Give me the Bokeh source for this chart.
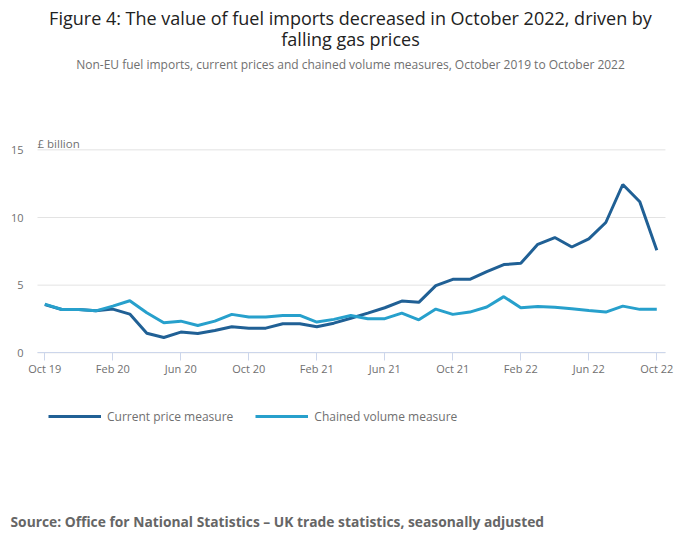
from bokeh.plotting import figure
from bokeh.models import (ColumnDataSource, FixedTicker, Range1d, Label, Legend, LegendItem)
from bokeh.embed import file_html
from bokeh.resources import INLINE

# ---- data ----
months = ["Oct 19", "Nov 19", "Dec 19", "Jan 20", "Feb 20", "Mar 20", "Apr 20", "May 20", "Jun 20",
          "Jul 20", "Aug 20", "Sep 20", "Oct 20", "Nov 20", "Dec 20", "Jan 21", "Feb 21", "Mar 21",
          "Apr 21", "May 21", "Jun 21", "Jul 21", "Aug 21", "Sep 21", "Oct 21", "Nov 21", "Dec 21",
          "Jan 22", "Feb 22", "Mar 22", "Apr 22", "May 22", "Jun 22", "Jul 22", "Aug 22", "Sep 22",
          "Oct 22"]
current_price = [3.56, 3.2, 3.2, 3.1, 3.23, 2.86, 1.45, 1.13, 1.53, 1.43, 1.65, 1.92, 1.82, 1.82,
                 2.15, 2.15, 1.92, 2.19, 2.55, 2.93, 3.33, 3.82, 3.73, 4.96, 5.43, 5.43, 6.0, 6.52,
                 6.61, 8.02, 8.52, 7.82, 8.42, 9.63, 12.44, 11.16, 7.58]
chained_volume = [3.6, 3.2, 3.2, 3.1, 3.45, 3.85, 2.96, 2.22, 2.34, 2.02, 2.34, 2.84, 2.64, 2.64,
                  2.76, 2.76, 2.27, 2.47, 2.76, 2.52, 2.52, 2.93, 2.44, 3.23, 2.84, 3.01, 3.38, 4.15,
                  3.33, 3.43, 3.36, 3.26, 3.13, 3.01, 3.45, 3.21, 3.21]
series_names = ["Current price measure", "Chained volume measure"]
y_ticks = [0, 5, 10, 15]
tick_labels = ["Oct 19", "Feb 20", "Jun 20", "Oct 20", "Feb 21", "Jun 21", "Oct 21", "Feb 22", "Jun 22", "Oct 22"]

title_lines = ["Figure 4: The value of fuel imports decreased in October 2022, driven by",
               "falling gas prices"]
subtitle = "Non-EU fuel imports, current prices and chained volume measures, October 2019 to October 2022"
y_unit = "£ billion"
source_text = "Source: Office for National Statistics \u2013 UK trade statistics, seasonally adjusted"

DARK = "#206095"
LIGHT = "#27a0cc"
GREY = "#707070"
FONT = "Open Sans"

# plot-area extent in data units (x: month index, y: £ billion)
X_LEFT, X_RIGHT = -0.43, 36.51
Y_BOTTOM, Y_TOP = 0, 15

W, H = 700, 549
idx = list(range(len(months)))
src = ColumnDataSource(dict(x=idx, cur=current_price, vol=chained_volume))

p = figure(width=W, height=H, output_backend="svg", toolbar_location=None,
           x_range=Range1d(-2.606, 38.571), y_range=Range1d(-14.54, 26.04),
           min_border=0)
p.outline_line_color = None
p.background_fill_color = "white"
p.border_fill_color = "white"

# horizontal gridlines limited to plot area
p.segment(x0=[X_LEFT] * len(y_ticks), x1=[X_RIGHT] * len(y_ticks), y0=y_ticks, y1=y_ticks,
          line_color="#e3e3e3", line_width=1, level="underlay")

r1 = p.line("x", "cur", source=src, line_color=DARK, line_width=3)
r2 = p.line("x", "vol", source=src, line_color=LIGHT, line_width=3)

# axes (drawn at fixed data locations inside the canvas)
tick_pos = [months.index(t) for t in tick_labels]
xa = p.xaxis[0]
xa.fixed_location = Y_BOTTOM
xa.bounds = (X_LEFT, X_RIGHT)
xa.ticker = FixedTicker(ticks=tick_pos)
xa.major_label_overrides = {i: months[i] for i in tick_pos}
xa.axis_line_color = "#ccd6eb"
xa.major_tick_line_color = "#ccd6eb"
xa.major_tick_in = 0
xa.major_tick_out = 8
xa.minor_tick_line_color = None
xa.major_label_standoff = 0
xa.major_label_text_font = FONT
xa.major_label_text_font_size = "11px"
xa.major_label_text_color = GREY

ya = p.yaxis[0]
ya.fixed_location = X_LEFT
ya.bounds = (Y_BOTTOM, Y_TOP)
ya.ticker = FixedTicker(ticks=y_ticks)
ya.axis_line_color = None
ya.major_tick_line_color = None
ya.minor_tick_line_color = None
ya.major_tick_out = 0
ya.major_tick_in = 0
ya.major_label_standoff = 14
ya.major_label_text_font = FONT
ya.major_label_text_font_size = "11px"
ya.major_label_text_color = GREY

p.xgrid.visible = False
p.ygrid.visible = False

# texts (screen units: x from left, y from bottom of canvas)
def add_label(x, y, text, size, color, align="left", style="normal"):
    p.add_layout(Label(x=x, y=y, x_units="screen", y_units="screen", text=text,
                       text_font=FONT, text_font_size=size, text_color=color,
                       text_align=align, text_baseline="middle", text_font_style=style))

add_label(350, H - 17, title_lines[0], "18px", "#222222", align="center")
add_label(350, H - 38, title_lines[1], "18px", "#222222", align="center")
add_label(350, H - 64, subtitle, "12px", GREY, align="center")
add_label(37, H - 143, y_unit, "11.5px", GREY)
add_label(10, H - 521, source_text, "13.8px", "#666666", style="bold")

legend = Legend(items=[LegendItem(label=series_names[0], renderers=[r1]),
                       LegendItem(label=series_names[1], renderers=[r2])],
                location=(48, H - 426), orientation="horizontal",
                glyph_width=53, glyph_height=20, label_height=20, label_standoff=6,
                spacing=22, padding=0, margin=0, border_line_color=None,
                background_fill_alpha=0,
                label_text_font=FONT, label_text_font_size="12px", label_text_color=GREY)
p.add_layout(legend, "center")

open("out.html", "w").write(file_html(p, INLINE))
